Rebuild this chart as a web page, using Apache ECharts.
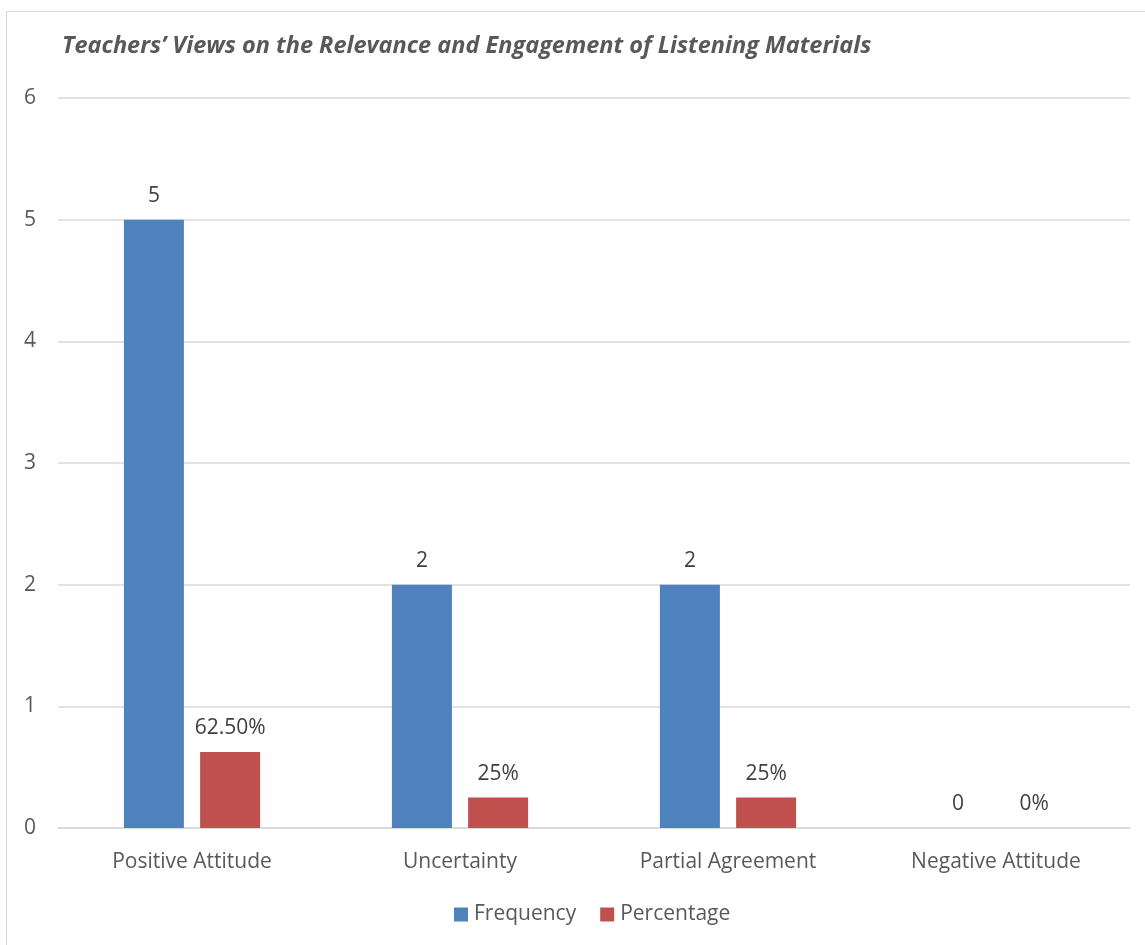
<!DOCTYPE html>
<html>
<head>
<meta charset="utf-8">
<script src="https://cdn.jsdelivr.net/npm/echarts@6/dist/echarts.min.js"></script>
<style>
  html, body { margin: 0; padding: 0; background: #fff; }
  #frame { position: absolute; left: 6px; top: 11px; width: 1150px; height: 950px; border: 1.5px solid #d9d9d9; box-sizing: border-box; }
  #chart { position: absolute; left: 0; top: 0; width: 1145px; height: 945px; }
</style>
</head>
<body>
<div id="frame"></div>
<div id="chart"></div>
<script>
// Survey results: teachers' views on listening materials
const categories = ['Positive Attitude', 'Uncertainty', 'Partial Agreement', 'Negative Attitude'];
const frequency = [5, 2, 2, 0];
const percentage = [0.625, 0.25, 0.25, 0];
const percentageLabels = ['62.50%', '25%', '25%', '0%'];
const yTicks = [0, 1, 2, 3, 4, 5, 6];

const FONT = '"Open Sans", "Liberation Sans", sans-serif';
const TEXT = '#595959';
const SIZE = 21;

const chart = echarts.init(document.getElementById('chart'), null, { renderer: 'canvas' });
chart.setOption({
  animation: false,
  title: {
    text: "Teachers’ Views on the Relevance and Engagement of Listening Materials",
    left: 57, top: 30,
    textStyle: { fontFamily: FONT, fontSize: 23.5, fontStyle: 'italic', fontWeight: 'bold', color: TEXT }
  },
  legend: {
    bottom: 15, left: 449,
    itemWidth: 14, itemHeight: 14, itemGap: 24,
    icon: 'rect',
    textStyle: { fontFamily: FONT, fontSize: SIZE, color: TEXT, padding: [0, 0, 0, 1] },
    data: ['Frequency', 'Percentage']
  },
  grid: { left: 58, right: 15, top: 98, bottom: 117, containLabel: false },
  xAxis: {
    type: 'category',
    data: categories,
    axisLine: { lineStyle: { color: '#d9d9d9', width: 1.5 } },
    axisTick: { show: false },
    axisLabel: { fontFamily: FONT, fontSize: SIZE, color: TEXT, margin: 24 }
  },
  yAxis: {
    type: 'value',
    min: yTicks[0], max: yTicks[yTicks.length - 1], interval: 1,
    axisLine: { show: false },
    axisTick: { show: false },
    splitLine: { lineStyle: { color: '#d9d9d9', width: 1.5 } },
    axisLabel: { fontFamily: FONT, fontSize: SIZE, color: TEXT, margin: 34, align: 'left',
      formatter: v => String(v) }
  },
  series: [
    {
      name: 'Frequency', type: 'bar', data: frequency,
      barWidth: 60, barGap: '27%',
      itemStyle: { color: '#4f81bd' },
      label: { show: true, position: 'top', distance: 13, fontFamily: FONT, fontSize: SIZE, color: '#404040' }
    },
    {
      name: 'Percentage', type: 'bar', data: percentage,
      barWidth: 60,
      itemStyle: { color: '#c0504d' },
      label: { show: true, position: 'top', distance: 13, fontFamily: FONT, fontSize: SIZE, color: '#404040',
        formatter: p => percentageLabels[p.dataIndex] }
    }
  ]
});
</script>
</body>
</html>
